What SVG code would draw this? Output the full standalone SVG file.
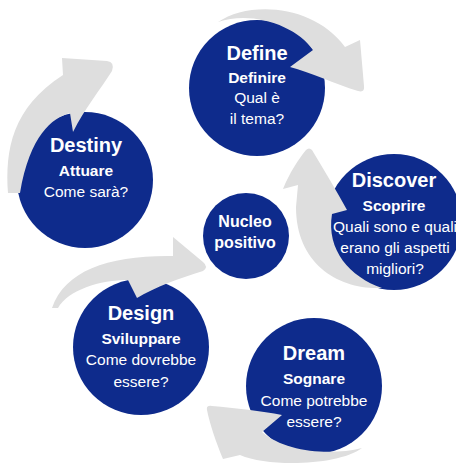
<svg xmlns="http://www.w3.org/2000/svg" width="456" height="466" viewBox="0 0 456 466">
  <style>
    .disc { fill: #0e2b8c; }
    .arrow { fill: #dedede; }
    text { fill: #ffffff; font-family: "Liberation Sans", Arial, sans-serif; text-anchor: middle; }
    .title { font-size: 20px; font-weight: bold; }
    .sub { font-size: 15.5px; font-weight: bold; }
    .body { font-size: 15.5px; }
    .core { font-size: 16px; font-weight: bold; }
  </style>
  <rect width="456" height="466" fill="#ffffff"/>

  <!-- phases of the cycle -->
  <g id="define">
    <circle class="disc" cx="257" cy="88" r="68"/>
    <text class="title" x="257" y="60">Define</text>
    <text class="sub" x="257" y="83">Definire</text>
    <text class="body" x="257" y="103">Qual è</text>
    <text class="body" x="257" y="124">il tema?</text>
  </g>
  <g id="destiny">
    <circle class="disc" cx="85" cy="180" r="68"/>
    <text class="title" x="86" y="152">Destiny</text>
    <text class="sub" x="86" y="176">Attuare</text>
    <text class="body" x="86" y="197">Come sarà?</text>
  </g>
  <g id="nucleo">
    <circle class="disc" cx="246" cy="236" r="43"/>
    <text class="core" x="245" y="227">Nucleo</text>
    <text class="core" x="245" y="248">positivo</text>
  </g>
  <g id="discover">
    <circle class="disc" cx="394" cy="222" r="68"/>
    <text class="title" x="394" y="187">Discover</text>
    <text class="sub" x="394" y="211">Scoprire</text>
    <text class="body" x="395" y="232">Quali sono e quali</text>
    <text class="body" x="395" y="253">erano gli aspetti</text>
    <text class="body" x="395" y="274">migliori?</text>
  </g>
  <g id="design">
    <circle class="disc" cx="141" cy="347" r="68"/>
    <text class="title" x="141" y="320">Design</text>
    <text class="sub" x="141" y="344">Sviluppare</text>
    <text class="body" x="141" y="365">Come dovrebbe</text>
    <text class="body" x="141" y="387">essere?</text>
  </g>
  <g id="dream">
    <circle class="disc" cx="314" cy="386" r="68"/>
    <text class="title" x="314" y="360">Dream</text>
    <text class="sub" x="314" y="384">Sognare</text>
    <text class="body" x="314" y="406">Come potrebbe</text>
    <text class="body" x="314" y="427">essere?</text>
  </g>

  <!-- curved arrows linking the phases -->
  <g id="connectors">
    <!-- Destiny -> Define -->
    <path class="arrow" d="M 8,193 C 5,150 12,108 63,75 L 62,58 L 107,61 Q 115,62 112,71 C 100,90 85,108 73,132 L 70,113 C 52,118 30,135 20,193 Z"/>
    <!-- Define -> Discover -->
    <path class="arrow" d="M 218,22 C 250,0 315,5 345,47 L 360,40 L 364,86 Q 365,93 358,91 C 335,84 310,72 290,67 L 313,50 C 297,26 252,10 218,22 Z"/>
    <!-- Discover -> centre -->
    <path class="arrow" d="M 382,288 C 340,290 296,265 296,207 L 298,185 L 283,189 C 290,172 298,160 306,150 Q 309,147 312,150 C 324,170 336,190 347,210 L 332,214 C 326,250 350,277 382,288 Z"/>
    <!-- Design -> centre -->
    <path class="arrow" d="M 52,308 C 65,270 110,255 173,256 L 173,237 L 203,262 Q 209,267 203,271 C 180,278 155,287 137,298 L 128,280 C 100,280 68,290 58,308 Z"/>
    <!-- Dream -> Design -->
    <path class="arrow" d="M 362,448 C 340,465 270,468 240,455 L 223,459 C 216,442 210,425 207,410 Q 206,405 212,406 C 235,408 262,411 282,415 L 262,432 C 285,452 330,456 362,448 Z"/>
  </g>
</svg>
